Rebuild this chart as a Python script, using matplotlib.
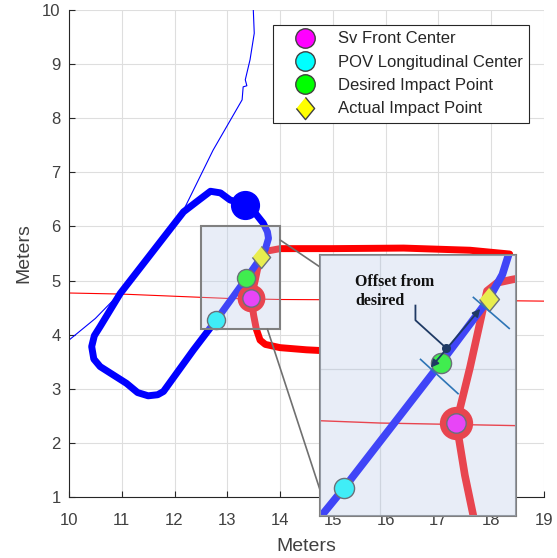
import matplotlib
matplotlib.use("Agg")
import matplotlib.pyplot as plt
from matplotlib.patches import Rectangle, ConnectionPatch
from matplotlib.lines import Line2D

plt.rcParams['font.family'] = ['Liberation Sans', 'DejaVu Sans']

# ---------------- data ----------------
blue_x = [13.34, 13.55, 13.68, 13.76, 13.78, 13.72, 13.64, 13.36, 12.79, 12.36, 11.79,
          11.68, 11.50, 11.30, 11.09, 10.59, 10.47, 10.43, 10.48, 10.59, 10.97, 12.17,
          12.45, 12.68, 12.87, 13.05, 13.34]
blue_y = [6.40, 6.22, 6.06, 5.90, 5.78, 5.58, 5.43, 5.04, 4.27, 3.72, 2.95,
          2.89, 2.87, 2.93, 3.10, 3.41, 3.55, 3.78, 3.98, 4.15, 4.76, 6.27,
          6.48, 6.65, 6.62, 6.49, 6.40]

thin_blue_x = [10.00, 10.50, 10.84, 10.97, 12.17, 12.73, 13.28, 13.30, 13.37, 13.34, 13.43, 13.51, 13.49]
thin_blue_y = [3.90, 4.30, 4.64, 4.77, 6.30, 7.41, 8.34, 8.58, 8.60, 8.71, 9.08, 9.57, 10.05]

red_x = [18.35, 17.60, 16.34, 15.00, 14.00, 13.78, 13.69, 13.63, 13.53, 13.45, 13.50,
         13.55, 13.62, 13.72, 14.00, 14.50, 15.10]
red_y = [5.49, 5.56, 5.60, 5.59, 5.59, 5.55, 5.53, 5.48, 5.01, 4.67, 4.35,
         4.10, 3.90, 3.82, 3.76, 3.72, 3.69]

thin_red_x = [10.0, 11.0, 12.0, 13.0, 14.0, 16.0, 18.0, 19.0]
thin_red_y = [4.77, 4.75, 4.71, 4.67, 4.65, 4.64, 4.63, 4.62]

blue_dot = (13.34, 6.40)
sv_front = (13.45, 4.67)
pov_center = (12.79, 4.27)
desired_pt = (13.36, 5.04)
actual_pt = (13.64, 5.43)

legend_labels = ['Sv Front Center', 'POV Longitudinal Center',
                 'Desired Impact Point', 'Actual Impact Point']

zoom_box = (12.5, 4.1, 1.5, 1.9)        # x0, y0, w, h of the highlighted region
inset_xlim = (12.65, 13.80)
inset_ylim = (4.10, 5.70)

# ---------------- style ----------------
BLUE = '#0000ff'
RED = '#ff0000'
EDGE = '#404040'
OVER = (188/255, 205/255, 234/255)
OVER_A = 0.34
diamond = [(0, 1), (0.82, 0), (0, -1), (-0.82, 0)]
NAVY = '#1f3a64'
STEEL = '#2e75b6'

fig = plt.figure(figsize=(5.57, 5.58), dpi=100)
ax = fig.add_axes([69/557, 1-497/558, 475/557, 487/558])

ax.set_xlim(10, 19)
ax.set_ylim(1, 10)
ax.set_xticks(range(10, 20))
ax.set_yticks(range(1, 11))
ax.grid(True, color='#dedede', lw=0.8)
ax.set_axisbelow(True)
for s in ['top', 'right']:
    ax.spines[s].set_visible(False)
for s in ['left', 'bottom']:
    ax.spines[s].set_color('#262626')
    ax.spines[s].set_linewidth(0.8)
ax.tick_params(direction='in', length=4, width=0.8, color='#262626',
               labelsize=12, labelcolor='#404040')
ax.tick_params(axis='x', pad=11.5)
ax.tick_params(axis='y', pad=6)
ax.set_xlabel('Meters', fontsize=14, color='#404040', labelpad=7)
ax.set_ylabel('Meters', fontsize=14, color='#404040', labelpad=7)


def draw_scene(a, big, small, lw_thick, lw_thin):
    a.plot(thin_red_x, thin_red_y, color=RED, lw=lw_thin, zorder=2)
    a.plot(thin_blue_x, thin_blue_y, color=BLUE, lw=lw_thin, zorder=2)
    a.plot(red_x, red_y, color=RED, lw=lw_thick, solid_capstyle='round',
           solid_joinstyle='round', zorder=2.2)
    a.plot(blue_x, blue_y, color=BLUE, lw=lw_thick, solid_capstyle='round',
           solid_joinstyle='round', zorder=2.3)
    a.plot(*blue_dot, 'o', color=BLUE, ms=big, zorder=3)
    a.plot(*sv_front, 'o', color=RED, ms=big, mew=0, zorder=3)
    a.plot(*sv_front, 'o', mfc='#ff00ff', mec=EDGE, mew=1, ms=small, zorder=3.1)
    a.plot(*pov_center, 'o', mfc='#00ffff', mec=EDGE, mew=1, ms=small + 0.5, zorder=3.1)
    a.plot(*desired_pt, 'o', mfc='#00ff00', mec=EDGE, mew=1, ms=small + 0.5, zorder=3.1)
    a.plot(*actual_pt, marker=diamond, mfc='#ffff00', mec=EDGE, mew=1,
           ms=small + 3.5, zorder=3.2)


draw_scene(ax, 20, 12.5, 5.0, 0.8)

# highlighted zoom box
ax.add_patch(Rectangle(zoom_box[:2], zoom_box[2], zoom_box[3], facecolor=OVER,
                       alpha=OVER_A, edgecolor='none', zorder=4))
ax.add_patch(Rectangle(zoom_box[:2], zoom_box[2], zoom_box[3], fill=False,
                       edgecolor='#808080', lw=1.5, zorder=4.5))

# legend
handles = [
    Line2D([], [], ls='none', marker='o', mfc='#ff00ff', mec=EDGE, ms=14),
    Line2D([], [], ls='none', marker='o', mfc='#00ffff', mec=EDGE, ms=14),
    Line2D([], [], ls='none', marker='o', mfc='#00ff00', mec=EDGE, ms=14),
    Line2D([], [], ls='none', marker=diamond, mfc='#ffff00', mec=EDGE, ms=16),
]
leg = ax.legend(handles, legend_labels, loc='upper right', bbox_to_anchor=(0.968, 0.969),
                borderaxespad=0, fancybox=False, framealpha=1, edgecolor='#262626',
                fontsize=12, handlelength=3.1, handletextpad=0.4, labelspacing=0.5,
                borderpad=0.38, numpoints=1, labelcolor='#262626')
leg.get_frame().set_linewidth(0.8)
leg.set_zorder(10)

# inset
axins = fig.add_axes([320/557, 1-516/558, 196/557, 261/558], zorder=5)
axins.set_xlim(*inset_xlim)
axins.set_ylim(*inset_ylim)
axins.set_xticks([13])
axins.set_yticks([5])
axins.tick_params(length=0, labelbottom=False, labelleft=False)
axins.grid(True, color='#d8d8d8', lw=0.9)
axins.set_axisbelow(True)
for s in axins.spines.values():
    s.set_color('#808080')
    s.set_linewidth(1.5)
draw_scene(axins, 24, 14, 5.5, 1.0)
axins.add_patch(Rectangle((0, 0), 1, 1, transform=axins.transAxes, facecolor=OVER,
                          alpha=OVER_A, edgecolor='none', zorder=4))

# annotation inside inset
axins.plot([13.24, 13.46], [5.06, 4.85], color=STEEL, lw=1.2, zorder=6)
axins.plot([13.55, 13.76], [5.44, 5.25], color=STEEL, lw=1.2, zorder=6)
axins.annotate('', xy=(13.30, 5.01), xytext=(13.59, 5.37),
               arrowprops=dict(arrowstyle='<|-|>', color=NAVY, lw=1.3,
                               mutation_scale=11, shrinkA=0, shrinkB=0), zorder=7)
axins.plot([13.39, 13.21, 13.21], [5.13, 5.30, 5.39], color=NAVY, lw=1.3, zorder=7)
axins.plot(13.39, 5.13, 'o', color=NAVY, ms=5.5, zorder=7)
axins.text(12.856, 5.477, 'Offset from\ndesired', family=['Liberation Serif', 'DejaVu Serif'],
           fontweight='bold', fontsize=11.5, ha='left', va='center', color='#111111',
           linespacing=1.2, zorder=8)

# connector lines between zoom box and inset
for pa, pb in [((zoom_box[0] + zoom_box[2], 5.75), (0, 0.954)),
               ((13.76, zoom_box[1]), (0, 0.10))]:
    con = ConnectionPatch(xyA=pa, coordsA=ax.transData, xyB=pb, coordsB=axins.transAxes,
                          color='#707070', lw=1.2, zorder=1)
    fig.add_artist(con)

fig.savefig('out.png', dpi=100)
